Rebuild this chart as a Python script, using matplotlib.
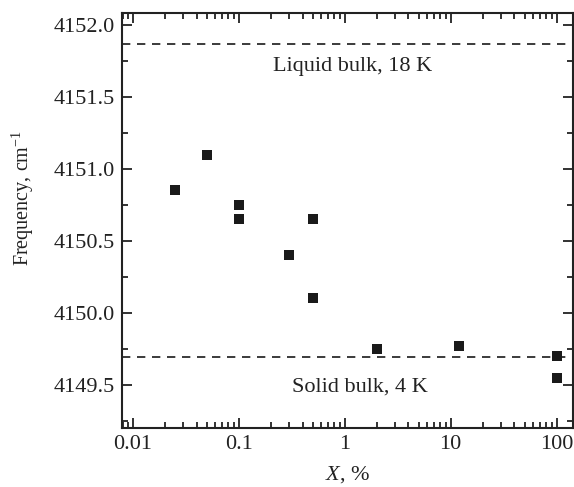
"""Frequency vs concentration X, with bulk liquid/solid reference lines."""
import matplotlib
matplotlib.use("Agg")
import matplotlib.pyplot as plt
from matplotlib.ticker import MultipleLocator, FixedLocator, FixedFormatter

plt.rcParams["font.family"] = ["Liberation Serif", "DejaVu Serif"]
plt.rcParams["mathtext.fontset"] = "custom"
plt.rcParams["mathtext.rm"] = "Liberation Serif"
plt.rcParams["mathtext.it"] = "Liberation Serif:italic"

# data
x_pct = [0.025, 0.05, 0.1, 0.1, 0.3, 0.5, 0.5, 2, 12, 100, 100]
freq = [4150.85, 4151.10, 4150.75, 4150.65, 4150.40, 4150.65, 4150.10,
        4149.75, 4149.77, 4149.70, 4149.55]
liquid_bulk = 4151.87
solid_bulk = 4149.69
x_ticks = [0.01, 0.1, 1, 10, 100]
x_ticklabels = ["0.01", "0.1", "1", "10", "100"]

fig = plt.figure(figsize=(5.74, 4.87), dpi=100)
ax = fig.add_axes([0.2125, 0.1211, 0.7858, 0.8522])

ax.plot(x_pct, freq, "s", color="#1a1a1a", markersize=7.2, markeredgewidth=0)
ax.axhline(liquid_bulk, color="#1a1a1a", linestyle=(0, (5, 4)), linewidth=1.2)
ax.axhline(solid_bulk, color="#1a1a1a", linestyle=(0, (5, 4)), linewidth=1.2)

ax.text(0.512, 0.87, "Liquid bulk, 18 K", transform=ax.transAxes,
        ha="center", va="center", fontsize=16, color="#222222")
ax.text(0.527, 0.099, "Solid bulk, 4 K", transform=ax.transAxes,
        ha="center", va="center", fontsize=16, color="#222222")

ax.set_xscale("log")
ax.set_xlim(0.0079, 143)
ax.set_ylim(4149.2, 4152.083)
ax.xaxis.set_major_locator(FixedLocator(x_ticks))
ax.xaxis.set_major_formatter(FixedFormatter(x_ticklabels))
ax.yaxis.set_major_locator(MultipleLocator(0.5))
ax.yaxis.set_minor_locator(MultipleLocator(0.25))
ax.yaxis.set_major_formatter(plt.FormatStrFormatter("%.1f"))

ax.tick_params(which="both", direction="in", top=True, right=True,
               labelsize=16, colors="#222222", width=1.3, pad=5)
ax.tick_params(which="major", length=7)
ax.tick_params(which="minor", length=4)
for s in ax.spines.values():
    s.set_linewidth(1.5)
    s.set_color("#222222")

ax.set_xlabel("$X$, %", fontsize=16, color="#222222", labelpad=7)
ax.set_ylabel("Frequency, cm$^{-1}$", fontsize=14.5, color="#222222")
ax.yaxis.set_label_coords(-0.19, 0.554)

plt.savefig("out.png", dpi=100, facecolor="white")
